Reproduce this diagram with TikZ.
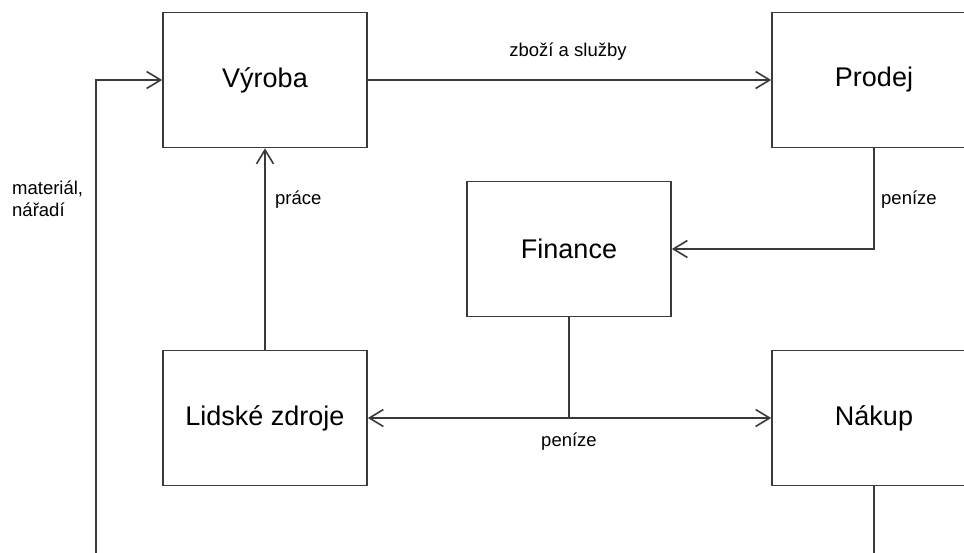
\documentclass[tikz,border=0pt]{standalone}
\usepackage{fontspec}
\setmainfont{Liberation Sans}
\usetikzlibrary{arrows.meta}
\definecolor{linec}{HTML}{3A3A3A}
\begin{document}
\begin{tikzpicture}[x=1pt,y=-1pt,
  block/.style={draw=linec, line width=1.7pt, minimum width=204pt, minimum height=135pt,
    inner sep=0pt, font=\fontsize{27}{32}\selectfont, text=black},
  flow/.style={draw=linec, line width=1.7pt},
  tip/.style={-{Straight Barb[length=14pt,width=17pt,line width=1.6pt]}},
  twotip/.style={{Straight Barb[length=14pt,width=17pt,line width=1.6pt]}-{Straight Barb[length=14pt,width=17pt,line width=1.6pt]}},
  lbl/.style={font=\fontsize{18.5}{22}\selectfont, inner sep=0pt, text=black}]
  \useasboundingbox (0,0) rectangle (964,552);
  \clip (0,0) rectangle (964,552);

  % departments
  \node[block] (vyroba)  at (265,80)  {Výroba};
  \node[block] (prodej)  at (874,80)  {Prodej};
  \node[block] (finance) at (569,249) {Finance};
  \node[block] (lidske)  at (265,418) {Lidské zdroje};
  \node[block] (nakup)   at (874,418) {Nákup};

  % free ends of the lines running off the bottom edge
  \coordinate (matin) at (96,560);
  \coordinate (nakout) at (874,560);

  % flows
  \draw[flow,tip] (matin) |- (vyroba.west);
  \draw[flow,tip] (vyroba.east) -- (prodej.west);
  \draw[flow,tip] (prodej.south) |- (finance.east);
  \draw[flow,tip] (lidske.north) -- (vyroba.south);
  \draw[flow,twotip] (lidske.east) -- (nakup.west);
  \draw[flow] (finance.south) -- (finance.south |- lidske.east);
  \draw[flow] (nakup.south) -- (nakout);

  % labels
  \node[lbl] (l1) at (568,52) {zboží a služby};
  \node[lbl, anchor=west] (l2) at (881,200) {peníze};
  \node[lbl, anchor=west] (l3) at (275,200) {práce};
  \node[lbl, anchor=west, align=left] (l4) at (12,199) {materiál,\\nářadí};
  \node[lbl] (l5) at (569,442) {peníze};
\end{tikzpicture}
\end{document}
